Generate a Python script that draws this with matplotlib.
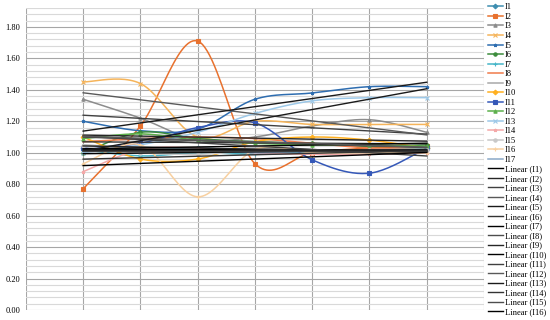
import numpy as np
import matplotlib
matplotlib.use("Agg")
from matplotlib import pyplot as plt

# data (7 points per series, x = 1..7)
x = [1, 2, 3, 4, 5, 6, 7]
names = ["I%d" % i for i in range(1, 18)]
values = [
    [1.03, 1.02, 1.03, 1.01, 1.00, 1.02, 1.03],   # I1
    [0.77, 1.17, 1.71, 0.93, 1.00, 1.03, 1.04],   # I2
    [1.34, 1.22, 1.08, 1.10, 1.17, 1.21, 1.13],   # I3
    [1.45, 1.44, 1.10, 1.20, 1.18, 1.18, 1.18],   # I4
    [1.20, 1.14, 1.15, 1.34, 1.38, 1.42, 1.42],   # I5
    [1.00, 1.13, 1.09, 1.07, 1.06, 1.04, 1.05],   # I6
    [1.02, 0.98, 1.00, 0.99, 1.00, 1.02, 1.03],   # I7
    [1.07, 1.09, 1.10, 1.09, 1.06, 1.03, 1.02],   # I8
    [1.05, 1.03, 1.02, 1.03, 1.02, 1.01, 1.00],   # I9
    [1.10, 0.96, 0.96, 1.07, 1.10, 1.08, 1.03],   # I10
    [1.03, 1.06, 1.16, 1.19, 0.955, 0.87, 1.03],  # I11
    [1.09, 1.12, 1.08, 1.06, 1.05, 1.05, 1.04],   # I12
    [1.00, 1.05, 1.13, 1.25, 1.33, 1.35, 1.35],   # I13
    [0.88, 1.02, 1.03, 1.00, 0.99, 0.99, 1.00],   # I14
    [1.04, 1.00, 0.99, 1.01, 1.01, 1.02, 1.02],   # I15
    [0.93, 1.05, 0.72, 1.02, 1.00, 1.00, 1.00],   # I16
    [1.02, 1.01, 1.02, 1.00, 1.01, 1.01, 1.02],   # I17
]
colors = ["#3e8eb0", "#e8712e", "#8c8c8c", "#f5b45a", "#2e6db0", "#3c8c3c",
          "#45b5c8", "#f07a4a", "#a8a8a8", "#ffb020", "#3558b8", "#5db04c",
          "#9cc8e8", "#f4a8a8", "#c8c8c8", "#f8d0a0", "#8aa8c8"]
markers = ["D", "s", "^", "x", "*", "o", "+", "", "", "D", "s", "^",
           "x", "*", "o", "+", ""]
trend_colors = ["#000000", "#262626", "#404040", "#595959", "#1a1a1a", "#333333",
                "#000000", "#4d4d4d", "#262626", "#000000", "#404040", "#595959",
                "#1a1a1a", "#333333", "#4d4d4d", "#000000", "#262626"]


def smooth(xv, yv, n=24):
    # bezier smoothing like Excel's "smoothed line"
    p = np.column_stack([xv, yv]).astype(float)
    out = []
    for i in range(len(p) - 1):
        p0 = p[i - 1] if i > 0 else p[i]
        p3 = p[i + 2] if i + 2 < len(p) else p[i + 1]
        c1 = p[i] + (p[i + 1] - p0) / 6
        c2 = p[i + 1] - (p3 - p[i]) / 6
        t = np.linspace(0, 1, n, endpoint=False)[:, None]
        seg = ((1 - t) ** 3) * p[i] + 3 * ((1 - t) ** 2) * t * c1 + 3 * (1 - t) * t ** 2 * c2 + t ** 3 * p[i + 1]
        out.append(seg)
    out.append(p[-1:])
    out = np.vstack(out)
    knots = [i * n for i in range(len(p))]
    return out[:, 0], out[:, 1], knots


plt.rcParams['font.family'] = ['Liberation Serif', 'DejaVu Serif']
fig = plt.figure(figsize=(5.5, 3.2), dpi=100)
ax = fig.add_axes([0.047, 0.031, 0.833, 0.944])

handles = []
for name, v, c, m in zip(names, values, colors, markers):
    sx, sy, kn = smooth(x, v)
    h, = ax.plot(sx, sy, color=c, lw=1.1, marker=m if m else None,
                 markevery=kn, ms=2.4, mew=0.8, label=name, zorder=3)
    handles.append(h)

for i, (v, c) in enumerate(zip(values, trend_colors)):
    k, b = np.polyfit(x, v, 1)
    xx = np.array([x[0], x[-1]])
    h, = ax.plot(xx, k * xx + b, color=c, lw=1.0, zorder=4,
                 label="Linear (%s)" % names[i])
    if i < 16:
        handles.append(h)

ax.set_xlim(0, 8)
ax.set_ylim(0, 1.92)
ax.set_yticks(np.arange(0, 1.81, 0.2))
ax.set_yticklabels(["%.2f" % t for t in np.arange(0, 1.81, 0.2)], fontsize=6)
ax.set_yticks(np.arange(0, 1.921, 0.04), minor=True)
ax.set_xticks(range(0, 9))
ax.set_xticklabels([])
ax.tick_params(length=0, which="both", pad=4)
ax.grid(True, which="major", axis="y", color="#a6a6a6", lw=0.8)
ax.grid(True, which="minor", axis="y", color="#d9d9d9", lw=0.8)
ax.grid(True, which="major", axis="x", color="#a6a6a6", lw=0.8)
for s in ax.spines.values():
    s.set_visible(False)
ax.set_axisbelow(True)

fig.legend(handles=handles, loc="upper left", bbox_to_anchor=(0.885, 0.992),
           frameon=False, fontsize=6.1, labelspacing=0.18, handlelength=1.8,
           handletextpad=0.2, borderpad=0.1, borderaxespad=0)

fig.savefig("out.png", dpi=100)
